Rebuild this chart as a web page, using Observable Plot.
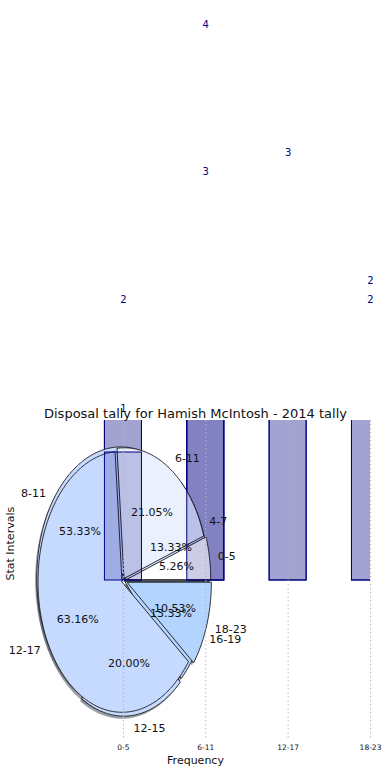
<!DOCTYPE html>
<html>
<head>
<meta charset="utf-8">
<script src="https://cdn.jsdelivr.net/npm/d3@7"></script>
<script src="https://cdn.jsdelivr.net/npm/@observablehq/plot@0.6"></script>
<style>
  html, body { margin: 0; padding: 0; background: #fff; }
  #chart { width: 390px; height: 780px; }
</style>
</head>
<body>
<div id="chart"></div>
<script>
// ---- data ----
const categories = ["0-5", "6-11", "12-17", "18-23"];
const tallyA = [2, 3, null, 2];    // labelled bars drawn beneath the pies
const tallyB = [1, 4, 3, 2];       // labelled bars drawn above the pies
const tallyC = [5, 5, 5, null];    // unlabelled bars (labels fall beyond the top)

const pieALabels = ["0-5", "6-11", "12-17", "18-23"];
const pieAValues = [1, 4, 12, 2];
const pieBLabels = ["4-7", "8-11", "12-15", "16-19"];
const pieBValues = [2, 8, 3, 2];

const titleText = "Disposal tally for Hamish McIntosh - 2014 tally";
const xLabel = "Frequency";
const yLabel = "Stat Intervals";

// ---- styles ----
const navy = "#000080";
const pieAColors = ["#ffffff", "#eaf0fe", "#c6d9fe", "#b3d4fe"];
const pieBColors = ["#d6e4fe", "#c6d9fe", "#c6d9fe", "#b3d4fe"];
const pieAExplode = [0.04, 0.02, 0.02, 0.05];
const pieBExplode = [0.02, 0.04, 0.04, 0.02];
const R = 1.02, barWidth = 0.45;
const font = "'DejaVu Sans', 'Liberation Sans', sans-serif";

function barRows(values) {
  return values.map((v, i) => ({i, v})).filter(d => d.v != null);
}

function wedges(values, labels, explode) {
  const total = d3.sum(values);
  let a = 0;
  return values.map((v, i) => {
    const a0 = a, a1 = a + v / total * 2 * Math.PI; a = a1;
    const mid = (a0 + a1) / 2;
    const ox = explode[i] * Math.cos(mid), oy = explode[i] * Math.sin(mid);
    const n = Math.max(2, Math.ceil((a1 - a0) / (Math.PI / 180)));
    const pts = [[ox, oy]];
    for (let k = 0; k <= n; k++) {
      const t = a0 + (a1 - a0) * k / n;
      pts.push([ox + R * Math.cos(t), oy + R * Math.sin(t)]);
    }
    return {i, label: labels[i], pct: v / total, mid, ox, oy, pts};
  });
}

const pieA = wedges(pieAValues, pieALabels, pieAExplode);
const pieB = wedges(pieBValues, pieBLabels, pieBExplode);

function shadowMarks(pie) {
  return pie.map(w => Plot.line(w.pts.map(p => [p[0] - 0.02, p[1] - 0.02]), {
    x: d => d[0], y: d => d[1], curve: "linear-closed",
    fill: "#3a4150", fillOpacity: 0.5, stroke: "none", clip: true
  }));
}
function wedgeMarks(pie, colors) {
  return pie.map(w => Plot.line(w.pts, {
    x: d => d[0], y: d => d[1], curve: "linear-closed",
    fill: colors[w.i], stroke: "#1a1a1a", strokeWidth: 0.9, clip: true
  }));
}
function pieTextMarks(pie) {
  const pct = pie.map(w => ({
    x: w.ox + 0.6 * R * Math.cos(w.mid), y: w.oy + 0.6 * R * Math.sin(w.mid),
    t: (w.pct * 100).toFixed(2) + "%"
  }));
  const lab = pie.map(w => ({
    x: w.ox + 1.1 * R * Math.cos(w.mid), y: w.oy + 1.1 * R * Math.sin(w.mid),
    t: w.label, right: Math.cos(w.mid) > 0
  }));
  return [
    Plot.text(pct, {x: "x", y: "y", text: "t", fontSize: 11, fill: "#111"}),
    Plot.text(lab.filter(d => d.right), {x: "x", y: "y", text: "t", textAnchor: "start", fontSize: 11, fill: "#111"}),
    Plot.text(lab.filter(d => !d.right), {x: "x", y: "y", text: "t", textAnchor: "end", fontSize: 11, fill: "#111"})
  ];
}
function barMark(values) {
  return Plot.rectY(barRows(values), {
    x1: d => d.i - barWidth / 2, x2: d => d.i + barWidth / 2, y1: 0, y2: "v",
    fill: navy, fillOpacity: 0.2, stroke: navy, strokeWidth: 1, clip: true
  });
}

const chart = Plot.plot({
  width: 390,
  height: 780,
  marginTop: 420,
  marginBottom: 40,
  marginLeft: 20,
  marginRight: 20,
  style: {fontFamily: font, background: "#fff", overflow: "visible"},
  x: {type: "linear", domain: [-1.25, 3], axis: null},
  y: {type: "linear", domain: [-1.25, 1.25], axis: null},
  marks: [
    ...shadowMarks(pieB),
    ...shadowMarks(pieA),
    barMark(tallyC),
    barMark(tallyA),
    ...wedgeMarks(pieB, pieBColors),
    ...wedgeMarks(pieA, pieAColors),
    barMark(tallyB),
    Plot.gridX([0, 1, 2, 3], {stroke: "#b8b8b8", strokeOpacity: 1, strokeWidth: 1, strokeDasharray: "1.5,2.5"}),
    Plot.axisX({ticks: [0, 1, 2, 3], tickFormat: i => categories[i], tickSize: 0, tickPadding: 4, fontSize: 7.5, label: null, fill: "#111"}),
    ...pieTextMarks(pieA),
    ...pieTextMarks(pieB),
    Plot.text(barRows(tallyA), {x: "i", y: "v", text: d => String(d.v), dy: -25, fill: navy, fontSize: 10}),
    Plot.text(barRows(tallyB), {x: "i", y: "v", text: d => String(d.v), dy: -44, fill: navy, fontSize: 10}),
    Plot.text([titleText], {frameAnchor: "top", lineAnchor: "middle", dy: -7, fontSize: 13, fill: "#111"}),
    Plot.text([xLabel], {frameAnchor: "bottom", lineAnchor: "middle", dy: 20, fontSize: 11, fill: "#111"}),
    Plot.text([yLabel], {frameAnchor: "left", rotate: -90, dx: -10, fontSize: 11, fill: "#111"})
  ]
});

document.getElementById("chart").appendChild(chart);
</script>
</body>
</html>
